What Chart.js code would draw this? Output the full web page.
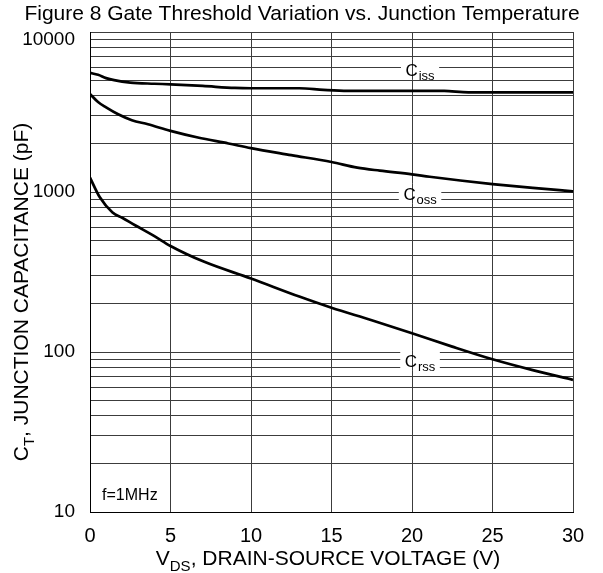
<!DOCTYPE html>
<html>
<head>
<meta charset="utf-8">
<script src="https://cdn.jsdelivr.net/npm/chart.js@4.4.1/dist/chart.umd.min.js"></script>
<style>
  html, body { margin: 0; padding: 0; background: #fff; }
</style>
</head>
<body>
<canvas id="chart" width="603" height="573"></canvas>
<script>
// curve data (V in volts, C in pF)
const cissV = [0, 0.5, 1, 1.5, 2.5, 4, 5, 7, 9, 10, 13, 14.5, 16, 20, 22, 23.5, 25, 30];
const cissC = [5550, 5400, 5150, 5000, 4830, 4750, 4710, 4600, 4470, 4450, 4450, 4350, 4290, 4290, 4280, 4200, 4200, 4200];

const cossV = [0, 0.5, 1, 1.75, 2.6, 3.6, 5, 6.7, 8.6, 10, 12.5, 15, 16.6, 18, 20, 21.1, 23, 25, 27.5, 30];
const cossC = [4100, 3650, 3380, 3060, 2810, 2650, 2410, 2190, 2010, 1880, 1700, 1540, 1420, 1360, 1290, 1245, 1180, 1120, 1060, 1010];

const crssV = [0, 0.6, 1.4, 2, 2.8, 4, 5, 7.1, 10, 13, 15, 17.5, 20, 22.5, 25, 27.5, 30];
const crssC = [1230, 930, 745, 690, 620, 530, 460, 366, 288, 222, 189, 158, 131, 108, 90, 77, 67];

const xTicks = [0, 5, 10, 15, 20, 25, 30];
const yGrid = [10, 20, 30, 40, 50, 60, 70, 80, 90,
               100, 200, 300, 400, 500, 600, 700, 800, 900,
               1000, 2000, 3000, 4000, 5000, 6000, 7000, 8000, 9000, 10000];
const yTickLabels = [10, 100, 1000, 10000];

const curveNames = ["iss", "oss", "rss"];

const FONT = '"Liberation Sans", Arial, sans-serif';
const GRID = "#3c3c3c";

function toPoints(xs, ys) {
    return xs.map((x, i) => ({ x: x, y: ys[i] }));
}

// draw a row of text pieces (for subscripts), centred on x
function drawRuns(ctx, runs, x, y) {
    let total = 0;
    runs.forEach(r => {
        ctx.font = r.size + "px " + FONT;
        total += ctx.measureText(r.t).width;
    });
    let cx = x - total / 2;
    ctx.textAlign = "left";
    ctx.textBaseline = "alphabetic";
    runs.forEach(r => {
        ctx.font = r.size + "px " + FONT;
        ctx.fillText(r.t, cx, y + (r.dy || 0));
        cx += ctx.measureText(r.t).width;
    });
    return total;
}

// where the C labels sit, in data units
const labelSpots = [
    { v: 20.5, c: 5800 },
    { v: 20.5, c: 975 },
    { v: 20.5, c: 88 }
];

let topLabelMoved = false;

const textPlugin = {
    id: "texts",
    beforeDraw(chart) {
        // the top "10000" label sits just under the frame, not centred on it
        if (topLabelMoved) return;
        chart.scales.y.getLabelItems().forEach(item => {
            if (item.label === "10000") {
                const t = item.options.translation;
                item.options.translation = [t[0], t[1] + 8];
            }
        });
        topLabelMoved = true;
    },
    afterDatasetsDraw(chart) {
        const ctx = chart.ctx;
        const xs = chart.scales.x, ys = chart.scales.y;
        ctx.save();
        ctx.fillStyle = "#000";

        // curve labels with white boxes over the grid
        curveNames.forEach((name, i) => {
            const px = xs.getPixelForValue(labelSpots[i].v);
            const py = ys.getPixelForValue(labelSpots[i].c);
            ctx.font = "17px " + FONT;
            const w1 = ctx.measureText("C").width;
            ctx.font = "13px " + FONT;
            const w2 = ctx.measureText(name).width;
            const w = w1 + w2 + 2 + 8;
            ctx.fillStyle = "#fff";
            ctx.fillRect(px - w / 2, py - 10, w, 20);
            // vertical grid line keeps running through the box
            const gx = Math.round(xs.getPixelForValue(20)) + 0.5;
            ctx.strokeStyle = GRID;
            ctx.lineWidth = 1;
            ctx.beginPath();
            ctx.moveTo(gx, py - 10);
            ctx.lineTo(gx, py + 10);
            ctx.stroke();
            ctx.fillStyle = "#000";
            drawRuns(ctx, [
                { t: "C", size: 17 },
                { t: " ", size: 3 },
                { t: name, size: 13, dy: 4 }
            ], px, py + 6);
        });

        // frequency note
        ctx.font = "16px " + FONT;
        ctx.textAlign = "left";
        ctx.textBaseline = "middle";
        ctx.fillText("f=1MHz", xs.getPixelForValue(0.75), ys.getPixelForValue(12.7));
        ctx.restore();
    },
    afterDraw(chart) {
        const ctx = chart.ctx;
        ctx.save();
        ctx.fillStyle = "#000";

        // title
        ctx.font = "21px " + FONT;
        ctx.textAlign = "center";
        ctx.textBaseline = "alphabetic";
        ctx.fillText("Figure 8 Gate Threshold Variation vs. Junction Temperature", 302, 20);

        // x axis title
        drawRuns(ctx, [
            { t: "V", size: 21 },
            { t: "DS", size: 15, dy: 6 },
            { t: ", DRAIN-SOURCE VOLTAGE (V)", size: 21 }
        ], 328, 565);

        // y axis title, rotated
        ctx.translate(28, 292);
        ctx.rotate(-Math.PI / 2);
        drawRuns(ctx, [
            { t: "C", size: 21 },
            { t: "T", size: 15, dy: 6 },
            { t: ", JUNCTION CAPACITANCE (pF)", size: 21 }
        ], 0, 0);
        ctx.restore();
    }
};

const chart = new Chart(document.getElementById("chart").getContext("2d"), {
    type: "line",
    data: {
        datasets: [
            { label: "Ciss", data: toPoints(cissV, cissC) },
            { label: "Coss", data: toPoints(cossV, cossC) },
            { label: "Crss", data: toPoints(crssV, crssC) }
        ]
    },
    options: {
        responsive: false,
        animation: false,
        devicePixelRatio: 1,
        layout: { padding: { top: 32, right: 30, left: 0, bottom: 0 } },
        elements: {
            line: { borderColor: "#000", borderWidth: 2.7, cubicInterpolationMode: "monotone", fill: false },
            point: { radius: 0 }
        },
        plugins: {
            legend: { display: false },
            tooltip: { enabled: false },
            title: { display: false }
        },
        scales: {
            x: {
                type: "linear",
                min: 0,
                max: 30,
                afterBuildTicks: scale => { scale.ticks = xTicks.map(v => ({ value: v })); },
                afterFit: scale => { scale.height = 61; },
                ticks: { color: "#000", font: { family: FONT, size: 20 }, padding: 12, maxRotation: 0 },
                grid: { color: GRID, lineWidth: 1, drawTicks: false },
                border: { color: "#000", width: 1 }
            },
            y: {
                type: "logarithmic",
                min: 10,
                max: 10000,
                afterBuildTicks: scale => { scale.ticks = yGrid.map(v => ({ value: v })); },
                afterFit: scale => { scale.width = 90; },
                ticks: {
                    color: "#000",
                    font: { family: FONT, size: 19 },
                    padding: 15,
                    autoSkip: false,
                    callback: v => yTickLabels.includes(v) ? String(v) : ""
                },
                grid: { color: GRID, lineWidth: 1, drawTicks: false },
                border: { color: "#000", width: 1 }
            }
        }
    },
    plugins: [textPlugin]
});
</script>
</body>
</html>
